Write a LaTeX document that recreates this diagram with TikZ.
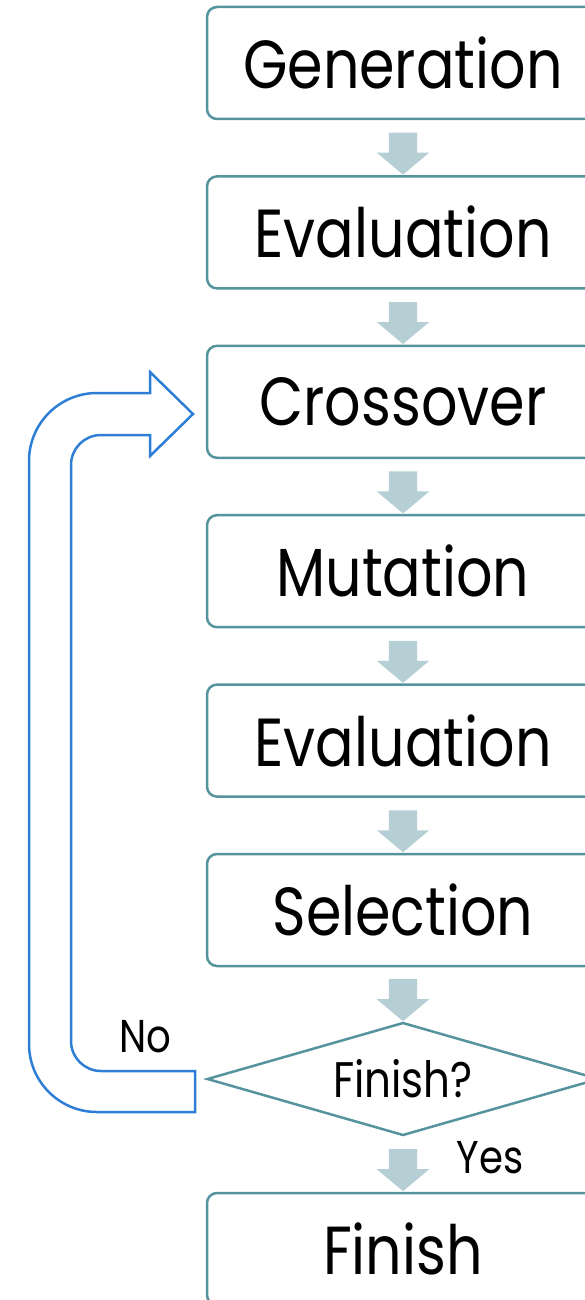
\documentclass[tikz,border=0pt]{standalone}
\usepackage{fontspec}
\setmainfont[FakeStretch=0.84]{Poppins}
\usetikzlibrary{shapes.geometric,shapes.arrows,calc}

\definecolor{boxline}{HTML}{55949C}
\definecolor{flowfill}{HTML}{B5CFD5}
\definecolor{loopblue}{HTML}{2E7ED6}

\tikzset{
  stage/.style={draw=boxline, line width=2.5pt, rounded corners=10pt, minimum width=392pt,
    minimum height=112pt, inner sep=0pt, font=\fontsize{68}{76}\selectfont},
  check/.style={draw=boxline, line width=2.5pt, diamond, aspect=3.5, minimum width=392pt,
    minimum height=113pt, inner sep=0pt, font=\fontsize{50}{56}\selectfont},
  flow/.style={single arrow, fill=flowfill, draw=none, rotate=-90, minimum height=42pt,
    minimum width=52pt, inner xsep=0pt, inner ysep=14pt, single arrow head extend=12pt,
    single arrow tip angle=100},
  tag/.style={font=\fontsize{46}{52}\selectfont, inner sep=0pt}
}

\begin{document}
\begin{tikzpicture}[x=1pt, y=1pt]
  \useasboundingbox (0,0) rectangle (585,-1300);

  % the stages of one generation, top to bottom
  \foreach \name/\txt [count=\i from 0] in {gen/Generation, evalA/Evaluation, cross/Crossover,
      mut/Mutation, evalB/Evaluation, sel/Selection} {
    \node[stage] (\name) at (403, {-63 - 169.4*\i}) {\txt};
  }
  \node[check] (dec) at (403,-1079) {Finish?};
  \node[stage] (fin) at (403,-1249) {Finish};

  % block arrows in the gaps
  \foreach \a/\b in {gen/evalA, evalA/cross, cross/mut, mut/evalB, evalB/sel, sel/dec, dec/fin} {
    \node[flow] at ($(\a.south)!0.5!(\b.north)$) {};
  }

  \node[tag] (no) at (145,-1037) {No};
  \node[tag] (yes) at (490,-1158) {Yes};

  % loop back to crossover
  \draw[loopblue, line width=2.5pt, line join=miter]
    (195,-1071) -- (195,-1112) -- (97,-1112) arc[start angle=270, end angle=180, radius=68pt]
    -- (29,-461) arc[start angle=180, end angle=90, radius=68pt]
    -- (150,-393) -- (150,-372) -- (193,-414) -- (150,-456) -- (150,-435)
    -- (101,-435) arc[start angle=90, end angle=180, radius=30pt]
    -- (71,-1041) arc[start angle=180, end angle=270, radius=30pt] -- cycle;
\end{tikzpicture}
\end{document}
